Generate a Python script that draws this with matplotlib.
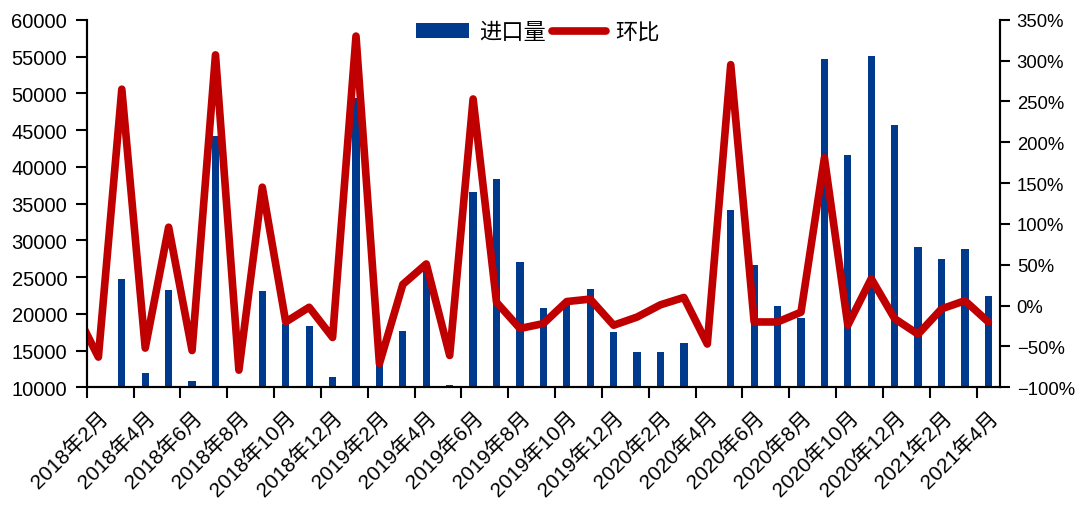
import matplotlib
matplotlib.use("Agg")
import matplotlib.pyplot as plt
from matplotlib.ticker import FixedLocator, FuncFormatter
import numpy as np

plt.rcParams["font.family"] = ["Liberation Sans", "Noto Sans CJK SC", "DejaVu Sans"]
plt.rcParams["axes.unicode_minus"] = True

# monthly series, 2018-01 .. 2021-04
years = [2018] * 12 + [2019] * 12 + [2020] * 12 + [2021] * 4
months = list(range(1, 13)) * 3 + [1, 2, 3, 4]
labels = [f"{y}年{m}月" for y, m in zip(years, months)]

volume = [18400, 6800, 24800, 12000, 23300, 10800, 44200, 9300, 23100, 18600,
          18300, 11400, 49300, 13600, 17600, 26000, 10300, 36600, 38300, 27050,
          20750, 21200, 23400, 17500, 14760, 14760, 16030, 8500, 34100, 26700,
          21100, 19400, 54600, 41650, 55100, 45700, 29050, 27460, 28800, 22400]

mom = [-6, -63, 265, -52, 96, -55, 307, -79, 145, -20,
       -2, -39, 330, -71, 26, 51, -61, 253, 4, -28,
       -22, 5, 8, -24, -14, 1, 10, -47, 295, -20,
       -20, -8, 181, -24, 33, -16, -35, -4, 6, -20]

BLUE = "#003A8C"
RED = "#C00000"

x = np.arange(len(labels))

fig, ax = plt.subplots(figsize=(10.78, 5.06), dpi=100)
fig.subplots_adjust(left=0.0804, right=0.9277, top=0.959, bottom=0.2326)
ax2 = ax.twinx()

bars = ax.bar(x, volume, width=0.31, color=BLUE, label="进口量")
line, = ax2.plot(x, mom, color=RED, lw=5.5, solid_joinstyle="round",
                 solid_capstyle="round", label="环比")

# first month is only there so the line enters from the left edge
ax.set_xlim(0.5, len(labels) - 0.5)
ax.set_ylim(10000, 60000)
ax.set_yticks(np.arange(10000, 60001, 5000))
ax2.set_ylim(-100, 350)
ax2.set_yticks(np.arange(-100, 351, 50))
ax2.yaxis.set_major_formatter(
    FuncFormatter(lambda v, _: f"{v:.0f}%".replace("-", "\u2212")))

# ticks between categories every two months, labels on every other month
ax.xaxis.set_major_locator(FixedLocator(np.arange(0.5, len(labels), 2)))
ax.set_xticklabels([])
ax.xaxis.set_minor_locator(FixedLocator(x[1::2]))
ax.set_xticklabels(labels[1::2], minor=True, rotation=45, ha="right",
                   va="top", rotation_mode="anchor", fontsize=15)
ax.tick_params(axis="x", which="minor", length=0, pad=14)
ax.tick_params(axis="x", which="major", length=8, width=1.5, direction="out")

ax.tick_params(axis="y", labelsize=14.5, length=8, width=1.5, pad=6)
ax2.tick_params(axis="y", labelsize=13.3, length=7, width=1.5, pad=5)

for a in (ax, ax2):
    a.spines["top"].set_visible(False)
    for s in ("left", "right", "bottom"):
        a.spines[s].set_linewidth(1.5)

fig.legend(handles=[bars, line], loc="center", bbox_to_anchor=(0.499, 0.935),
           ncol=2, frameon=False, handlelength=2.4, handleheight=0.65,
           handletextpad=0.45, columnspacing=0.3,
           prop={"family": ["Noto Sans CJK SC"], "size": 16})

fig.savefig("out.png", dpi=100)
